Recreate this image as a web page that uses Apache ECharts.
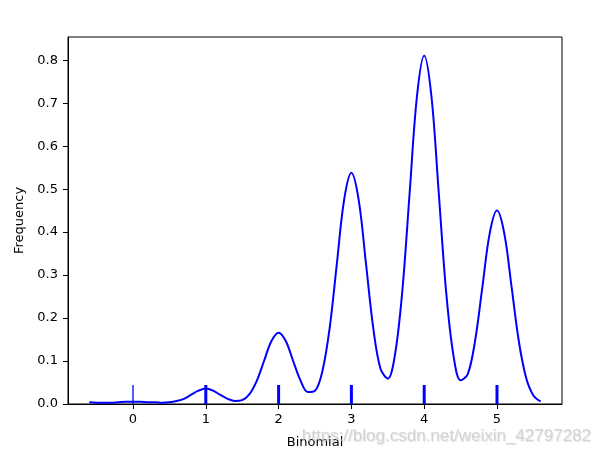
<!DOCTYPE html>
<html>
<head>
<meta charset="utf-8">
<script src="https://cdn.jsdelivr.net/npm/echarts@6/dist/echarts.min.js"></script>
<style>
  html, body { margin: 0; padding: 0; background: #fff; }
  #chart { width: 600px; height: 454px; }
</style>
</head>
<body>
<div id="chart"></div>
<script>
// kde curve
var kdeX = [-0.6, -0.5, -0.4, -0.3, -0.2, -0.1, 0.0, 0.1, 0.2, 0.3, 0.4, 0.5, 0.6, 0.7, 0.8, 0.9,
            1.0, 1.1, 1.2, 1.3, 1.4, 1.5, 1.6, 1.7, 1.8, 1.9, 2.0, 2.1, 2.2, 2.3, 2.4, 2.5,
            2.6, 2.7, 2.8, 2.9, 3.0, 3.1, 3.2, 3.3, 3.4, 3.5, 3.6, 3.7, 3.8, 3.9, 4.0, 4.1,
            4.2, 4.3, 4.4, 4.5, 4.6, 4.7, 4.8, 4.9, 5.0, 5.1, 5.2, 5.3, 5.4, 5.5, 5.6];
var kdeY = [0.004, 0.003, 0.003, 0.003, 0.004, 0.005, 0.005, 0.005, 0.004, 0.004, 0.003, 0.004, 0.007, 0.012, 0.022, 0.031,
            0.036, 0.031, 0.021, 0.012, 0.007, 0.009, 0.023, 0.054, 0.100, 0.146, 0.166, 0.146, 0.100, 0.055, 0.028, 0.031,
            0.075, 0.175, 0.326, 0.475, 0.538, 0.475, 0.327, 0.177, 0.082, 0.059, 0.116, 0.264, 0.491, 0.715, 0.811, 0.715,
            0.491, 0.264, 0.115, 0.055, 0.070, 0.148, 0.273, 0.397, 0.450, 0.397, 0.273, 0.146, 0.061, 0.020, 0.006];

// rug marks (observed values) and how heavy each one looks
var rugValues = [0, 1, 2, 3, 4, 5];
var rugWeight = [1.3, 3, 3, 3, 3, 3];

var xTicks = [0, 1, 2, 3, 4, 5];
var yTicks = [0, 0.1, 0.2, 0.3, 0.4, 0.5, 0.6, 0.7, 0.8];

var chart = echarts.init(document.getElementById('chart'));

var lineData = kdeX.map(function (x, i) { return [x, kdeY[i]]; });
var rugData = rugValues.map(function (v, i) { return [v, rugWeight[i]]; });

var txt = { color: '#000', fontFamily: 'DejaVu Sans', fontSize: 13 };

var option = {
    animation: false,
    backgroundColor: '#fff',
    grid: {
        left: 68, right: 38, top: 37, bottom: 49,
        show: true, borderColor: '#000', borderWidth: 1,
        containLabel: false
    },
    xAxis: {
        type: 'value',
        min: -0.893, max: 5.893,
        name: 'Binomial',
        nameLocation: 'middle',
        nameGap: 32,
        nameTextStyle: txt,
        axisLine: { show: true, onZero: false, lineStyle: { color: '#000', width: 1 } },
        axisTick: { show: true, length: 5, customValues: xTicks, lineStyle: { color: '#000' } },
        axisLabel: Object.assign({ margin: 9, customValues: xTicks }, txt),
        splitLine: { show: false }
    },
    yAxis: {
        type: 'value',
        min: 0, max: 0.854,
        name: 'Frequency',
        nameLocation: 'middle',
        nameGap: 37,
        nameTextStyle: txt,
        axisLine: { show: true, onZero: false, lineStyle: { color: '#000', width: 1 } },
        axisTick: { show: true, length: 5, customValues: yTicks, lineStyle: { color: '#000' } },
        axisLabel: Object.assign({
            margin: 10, customValues: yTicks,
            formatter: function (v) { return v.toFixed(1); }
        }, txt),
        splitLine: { show: false }
    },
    series: [
        {
            type: 'line',
            data: lineData,
            smooth: 0.35,
            showSymbol: false,
            lineStyle: { color: '#0000ff', width: 2 },
            z: 3
        },
        {
            type: 'custom',
            data: rugData,
            renderItem: function (params, api) {
                var p = api.coord([api.value(0), 0]);
                return {
                    type: 'line',
                    shape: { x1: p[0], y1: p[1], x2: p[0], y2: p[1] - 19 },
                    style: { stroke: '#0000ff', lineWidth: api.value(1) }
                };
            },
            z: 4
        }
    ],
    graphic: [
        {
            type: 'text',
            right: 9, bottom: 9,
            style: {
                text: 'https://blog.csdn.net/weixin_42797282',
                fill: 'rgba(200,200,200,0.75)',
                font: '17px "Liberation Sans", Arial, sans-serif',
                textShadowColor: 'rgba(120,120,120,0.25)',
                textShadowBlur: 1,
                textShadowOffsetX: 1,
                textShadowOffsetY: 1
            },
            z: 10
        }
    ]
};

chart.setOption(option);
</script>
</body>
</html>
